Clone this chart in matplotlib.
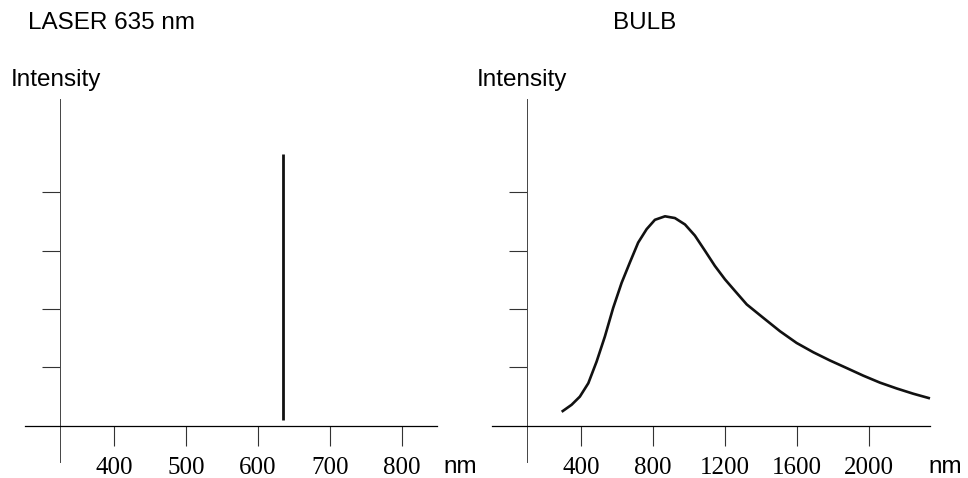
import numpy as np
import matplotlib.pyplot as plt

# laser line
laser_nm = 635
laser_lo, laser_hi = 0.1, 4.66

# bulb spectrum
bulb_nm = [293, 348, 394, 441, 487, 533, 579, 626, 672, 718, 765, 811, 867,
           922, 978, 1033, 1089, 1144, 1200, 1256, 1321, 1413, 1506, 1598,
           1691, 1783, 1876, 1968, 2061, 2154, 2246, 2339]
bulb_int = [0.24, 0.36, 0.50, 0.73, 1.10, 1.53, 2.02, 2.45, 2.80, 3.14, 3.37,
            3.53, 3.59, 3.56, 3.45, 3.26, 3.00, 2.74, 2.51, 2.31, 2.08, 1.85,
            1.62, 1.42, 1.26, 1.12, 0.99, 0.86, 0.74, 0.64, 0.55, 0.47]

left_ticks = [400, 500, 600, 700, 800]
right_ticks = [400, 800, 1200, 1600, 2000]
y_ticks = [1, 2, 3, 4]

W, H = 968, 478
fig = plt.figure(figsize=(W / 100, H / 100), dpi=100)

sans = 'Liberation Sans'
serif = 'Liberation Serif'


def setup(ax, xlim, yaxis_at, ticks):
    ax.set_xlim(*xlim)
    ax.set_ylim(-0.62, 5.6)
    for s in ['top', 'right']:
        ax.spines[s].set_visible(False)
    ax.spines['bottom'].set_position(('data', 0))
    ax.spines['left'].set_position(('data', yaxis_at))
    ax.spines['bottom'].set_linewidth(0.9)
    ax.spines['left'].set_linewidth(0.7)
    ax.spines['left'].set_color('#444444')
    ax.set_xticks(ticks)
    ax.set_xticklabels([str(t) for t in ticks], fontfamily=serif, fontsize=18)
    ax.tick_params(axis='x', direction='out', length=14.4, width=0.8,
                   color='#333333', pad=8)
    ax.set_yticks(y_ticks)
    ax.set_yticklabels([])
    ax.tick_params(axis='y', direction='out', length=13, width=0.8,
                   color='#333333')
    ax.patch.set_visible(False)


# left: laser
ax1 = fig.add_axes([25 / W, 16 / H, 412 / W, 363 / H])
setup(ax1, (276, 849), 325, left_ticks)
ax1.vlines(laser_nm, laser_lo, laser_hi, color='#111111', linewidth=2.0)

# right: bulb
ax2 = fig.add_axes([492 / W, 16 / H, 438 / W, 363 / H])
setup(ax2, (-94, 2339), 100, right_ticks)
ax2.plot(bulb_nm, bulb_int, color='#111111', linewidth=1.9, clip_on=False,
         solid_joinstyle='round', solid_capstyle='butt')

fig.text(28 / W, 1 - 23 / H, 'LASER 635 nm', fontfamily=sans, fontsize=17.5,
         va='center', ha='left')
fig.text(11 / W, 1 - 80 / H, 'Intensity', fontfamily=sans, fontsize=17.5,
         va='center', ha='left')
fig.text(613 / W, 1 - 23 / H, 'BULB', fontfamily=sans, fontsize=17.5,
         va='center', ha='left')
fig.text(477 / W, 1 - 80 / H, 'Intensity', fontfamily=sans, fontsize=17.5,
         va='center', ha='left')
fig.text(443 / W, 1 - 467 / H, 'nm', fontfamily=sans, fontsize=17.5,
         va='center', ha='left')
fig.text(928 / W, 1 - 467 / H, 'nm', fontfamily=sans, fontsize=17.5,
         va='center', ha='left')

fig.savefig('out.png', dpi=100)
